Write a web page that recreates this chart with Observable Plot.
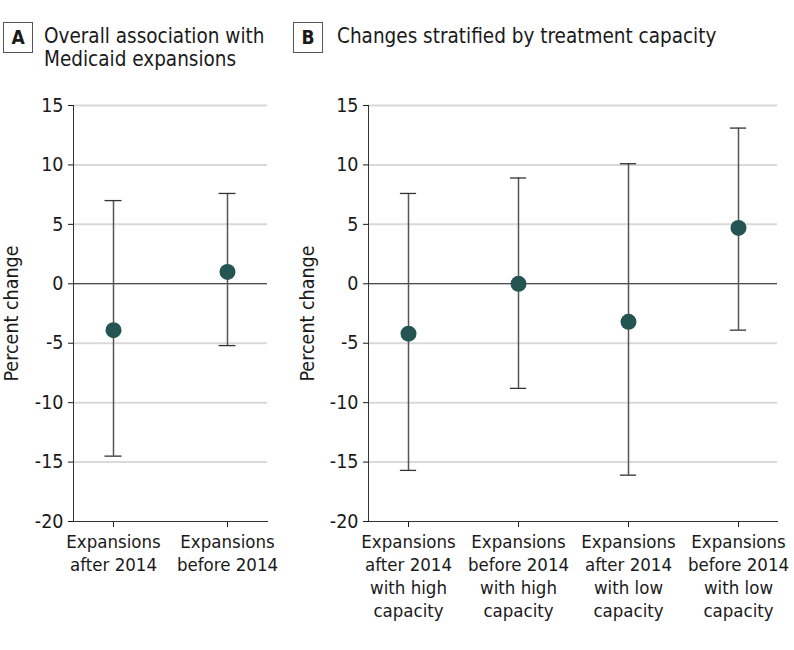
<!DOCTYPE html>
<html><head><meta charset="utf-8">
<script src="https://cdn.jsdelivr.net/npm/d3@7"></script>
<script src="https://cdn.jsdelivr.net/npm/@observablehq/plot@0.6"></script>
<style>
body{margin:0;background:#fff;}
#wrap{position:relative;width:794px;height:650px;font-family:"DejaVu Sans Condensed","Liberation Sans Narrow",sans-serif;color:#1a1a1a;}
.box{position:absolute;top:22px;width:30px;height:31px;border:1px solid #555;box-sizing:border-box;font-weight:bold;font-size:19px;text-align:center;line-height:29px;}
.title{position:absolute;top:25px;font-size:20.5px;line-height:23px;}
.panel{position:absolute;top:0;}
</style></head>
<body>
<div id="wrap">
  <div class="box" style="left:3px;">A</div>
  <div class="title" style="left:44px;">Overall association with<br>Medicaid expansions</div>
  <div class="box" style="left:293px;">B</div>
  <div class="title" style="left:337px;">Changes stratified by treatment capacity</div>
  <div class="panel" id="pa" style="left:0px;"></div>
  <div class="panel" id="pb" style="left:290px;"></div>
</div>
<script>
const catsA = ["Expansions\nafter 2014", "Expansions\nbefore 2014"];
const estA = [-3.9, 1.0];
const lowA = [-14.5, -5.2];
const highA = [7.0, 7.6];

const catsB = ["Expansions\nafter 2014\nwith high\ncapacity", "Expansions\nbefore 2014\nwith high\ncapacity", "Expansions\nafter 2014\nwith low\ncapacity", "Expansions\nbefore 2014\nwith low\ncapacity"];
const estB = [-4.2, 0.0, -3.2, 4.7];
const lowB = [-15.7, -8.8, -16.1, -3.9];
const highB = [7.6, 8.9, 10.1, 13.1];

const yTicks = [-20, -15, -10, -5, 0, 5, 10, 15];
const fontFam = '"DejaVu Sans Condensed","Liberation Sans Narrow",sans-serif';

function panel(cats, est, low, high, width, mL, mR, labelOffset) {
  const data = cats.map((c, i) => ({cat: c, est: est[i], low: low[i], high: high[i]}));
  const xInset = -17;
  const step = (width - mL - mR - 2 * xInset) / cats.length;
  const capInset = (step - 17) / 2;
  return Plot.plot({
    width, height: 650, marginTop: 105, marginBottom: 129, marginLeft: mL, marginRight: mR,
    style: {fontFamily: fontFam, fontSize: "18px", color: "#1a1a1a", background: "transparent"},
    x: {type: "band", domain: cats, padding: 0, insetLeft: xInset, insetRight: xInset},
    y: {domain: [-20, 15]},
    marks: [
      Plot.ruleY(yTicks.filter(d => d !== 0 && d !== -20), {stroke: "#d9d9d9", strokeWidth: 2}),
      Plot.ruleY([0], {stroke: "#111", strokeWidth: 1.1}),
      Plot.ruleX(data, {x: "cat", y1: "low", y2: "high", stroke: "#555", strokeWidth: 1.5}),
      Plot.tickY(data, {x: "cat", y: "low", insetLeft: capInset, insetRight: capInset, stroke: "#333", strokeWidth: 1.3}),
      Plot.tickY(data, {x: "cat", y: "high", insetLeft: capInset, insetRight: capInset, stroke: "#333", strokeWidth: 1.3}),
      Plot.dot(data, {x: "cat", y: "est", r: 8, fill: "#245553"}),
      Plot.axisY({ticks: yTicks, tickFormat: d => String(d), tickSize: 5, tickPadding: 5, fontSize: 19.5,
        label: "Percent change", labelAnchor: "center", labelArrow: "none", labelOffset}),
      Plot.axisX({tickSize: 6, tickPadding: 4, fontSize: 18.5, lineHeight: 1.24, label: null}),
      Plot.frame({anchor: "left", stroke: "#333"}),
      Plot.frame({anchor: "bottom", stroke: "#333"})
    ]
  });
}

document.getElementById("pa").append(panel(catsA, estA, lowA, highA, 280, 73, 13, 69));
document.getElementById("pb").append(panel(catsB, estB, lowB, highB, 504, 78, 17, 68));
</script>
</body></html>
